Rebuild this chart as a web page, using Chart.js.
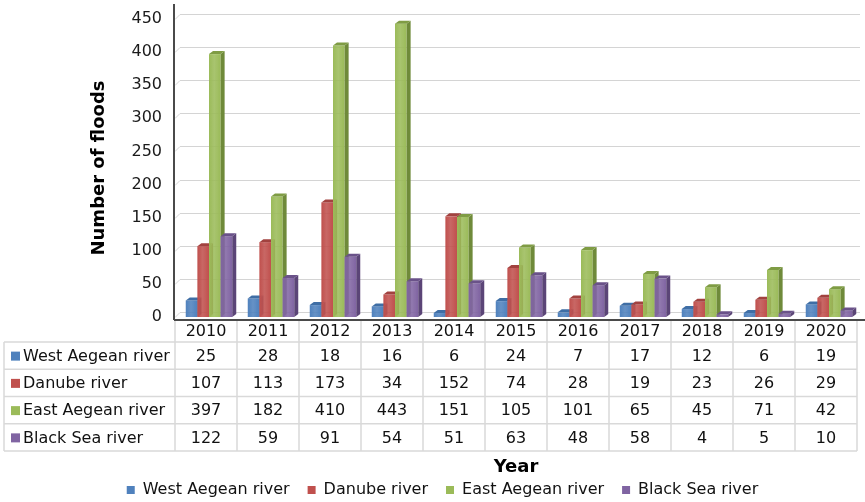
<!DOCTYPE html>
<html>
<head>
<meta charset="utf-8">
<title>Number of floods by river basin, 2010-2020</title>
<script src="https://cdn.jsdelivr.net/npm/chart.js@4.4.1/dist/chart.umd.min.js"></script>
<style>
  html, body { margin: 0; padding: 0; background: #fff; overflow: hidden; }
  #wrap { width: 865px; height: 502px; }
</style>
</head>
<body>
<div id="wrap"><canvas id="floods" width="865" height="502"></canvas></div>
<script>
const years = ['2010', '2011', '2012', '2013', '2014', '2015', '2016', '2017', '2018', '2019', '2020'];
const westAegean = [25, 28, 18, 16, 6, 24, 7, 17, 12, 6, 19];
const danube = [107, 113, 173, 34, 152, 74, 28, 19, 23, 26, 29];
const eastAegean = [397, 182, 410, 443, 151, 105, 101, 65, 45, 71, 42];
const blackSea = [122, 59, 91, 54, 51, 63, 48, 58, 4, 5, 10];
const seriesNames = ['West Aegean river', 'Danube river', 'East Aegean river', 'Black Sea river'];
const yMax = 450;
const yStep = 50;

const series = [westAegean, danube, eastAegean, blackSea];
const colors = ['#4F81BD', '#C0504D', '#9BBB59', '#8064A2'];
const sideColors = ['#37608F', '#8E3734', '#6F8A3A', '#5B4577'];
const topColors = ['#3F6EA5', '#A2423F', '#7F9C44', '#6A5289'];
const FONT = '"DejaVu Sans", Arial, sans-serif';

// fake depth of the 3-D columns
const dx = 4, dy = 3, shift = 3;

function shade(ctx, x0, x1, c) {
  const g = ctx.createLinearGradient(x0, 0, x1, 0);
  g.addColorStop(0, c);
  g.addColorStop(0.45, c + 'dd');
  g.addColorStop(1, c);
  return g;
}

const columns3d = {
  id: 'columns3d',
  beforeDatasetsDraw(chart) {
    const { ctx, chartArea: a, scales: { y } } = chart;
    ctx.save();

    // back wall gridlines
    ctx.strokeStyle = '#d4d4d4';
    ctx.lineWidth = 1;
    y.ticks.forEach(t => {
      const py = Math.round(y.getPixelForValue(t.value)) + 0.5;
      ctx.beginPath();
      ctx.moveTo(a.left, py);
      ctx.lineTo(a.left + 5, py - 5);
      ctx.lineTo(a.right + 3, py - 5);
      ctx.stroke();
    });

    for (let i = 0; i < years.length; i++) {
      chart.data.datasets.forEach((ds, d) => {
        const el = chart.getDatasetMeta(d).data[i];
        const x0 = el.x - el.width / 2 + shift;
        const x1 = el.x + el.width / 2 + shift;
        const top = el.y, base = el.base;

        ctx.fillStyle = shade(ctx, x0, x1, colors[d]);
        ctx.fillRect(x0, top, x1 - x0, base - top);

        ctx.fillStyle = sideColors[d];
        ctx.beginPath();
        ctx.moveTo(x1, top);
        ctx.lineTo(x1 + dx, top - dy);
        ctx.lineTo(x1 + dx, base - dy);
        ctx.lineTo(x1, base);
        ctx.closePath();
        ctx.fill();

        ctx.fillStyle = topColors[d];
        ctx.beginPath();
        ctx.moveTo(x0, top);
        ctx.lineTo(x0 + dx, top - dy);
        ctx.lineTo(x1 + dx, top - dy);
        ctx.lineTo(x1, top);
        ctx.closePath();
        ctx.fill();
      });
    }
    ctx.restore();
    return false;
  },
  afterDraw(chart) {
    const { ctx, chartArea: a, scales: { x } } = chart;
    const half = (x.getPixelForValue(1) - x.getPixelForValue(0)) / 2;
    const tableLeft = 4, rowTop = 342, rowH = 27.25;
    const floorY = a.bottom + 3;
    const tableBottom = rowTop + rowH * series.length;
    ctx.save();

    // data table grid
    ctx.strokeStyle = '#d9d9d9';
    ctx.lineWidth = 1.5;
    ctx.beginPath();
    for (let r = 0; r <= series.length; r++) {
      const ry = rowTop + r * rowH;
      ctx.moveTo(tableLeft, ry);
      ctx.lineTo(a.right, ry);
    }
    ctx.moveTo(tableLeft, rowTop);
    ctx.lineTo(tableLeft, tableBottom);
    for (let i = 0; i <= years.length; i++) {
      const cx = x.getPixelForValue(0) - half + i * half * 2;
      ctx.moveTo(cx, floorY);
      ctx.lineTo(cx, tableBottom);
    }
    ctx.stroke();

    // table values and row labels
    ctx.font = '16px ' + FONT;
    ctx.textBaseline = 'middle';
    series.forEach((vals, r) => {
      const cy = rowTop + r * rowH + rowH / 2 + 1;
      ctx.fillStyle = colors[r];
      ctx.fillRect(11, cy - 5, 9, 9);
      ctx.fillStyle = '#111';
      ctx.textAlign = 'left';
      ctx.fillText(seriesNames[r], 23, cy);
      ctx.textAlign = 'center';
      vals.forEach((v, i) => ctx.fillText(String(v), x.getPixelForValue(i), cy));
    });

    // axis lines
    ctx.strokeStyle = '#4a4a4a';
    ctx.lineWidth = 2;
    ctx.beginPath();
    ctx.moveTo(a.left - 1, 4);
    ctx.lineTo(a.left - 1, floorY);
    ctx.moveTo(a.left - 1, floorY);
    ctx.lineTo(865, floorY);
    ctx.stroke();
    ctx.restore();
  }
};

new Chart(document.getElementById('floods'), {
  type: 'bar',
  data: {
    labels: years,
    datasets: series.map((vals, d) => ({
      label: seriesNames[d],
      data: vals,
      backgroundColor: colors[d],
      borderWidth: 0,
      categoryPercentage: 0.75,
      barPercentage: 1.0
    }))
  },
  options: {
    responsive: false,
    animation: false,
    devicePixelRatio: 1,
    layout: { padding: { top: 19, right: 8, left: 28, bottom: -6 } },
    scales: {
      x: {
        grid: { display: false, drawTicks: false },
        border: { display: false },
        ticks: { color: '#111', font: { size: 16, family: FONT }, padding: 5 },
        title: {
          display: true,
          text: 'Year',
          color: '#000',
          font: { size: 18, weight: 'bold', family: FONT },
          padding: { top: 0, bottom: -14 }
        },
        afterFit: s => { s.height = 147; }
      },
      y: {
        min: 0,
        max: yMax,
        grid: { display: false, drawTicks: true, tickLength: 10 },
        border: { display: false },
        ticks: { stepSize: yStep, color: '#1a1a1a', font: { size: 16, family: FONT }, padding: 3 },
        title: {
          display: true,
          text: 'Number of floods',
          color: '#000',
          font: { size: 18, weight: 'bold', family: FONT },
          padding: { top: 61, bottom: 0 }
        },
        afterFit: s => { s.width = 147; }
      }
    },
    plugins: {
      legend: {
        position: 'bottom',
        labels: {
          boxWidth: 8,
          boxHeight: 8,
          padding: 18,
          color: '#111',
          font: { size: 16, family: FONT }
        }
      },
      tooltip: { enabled: false }
    }
  },
  plugins: [columns3d]
});
</script>
</body>
</html>
